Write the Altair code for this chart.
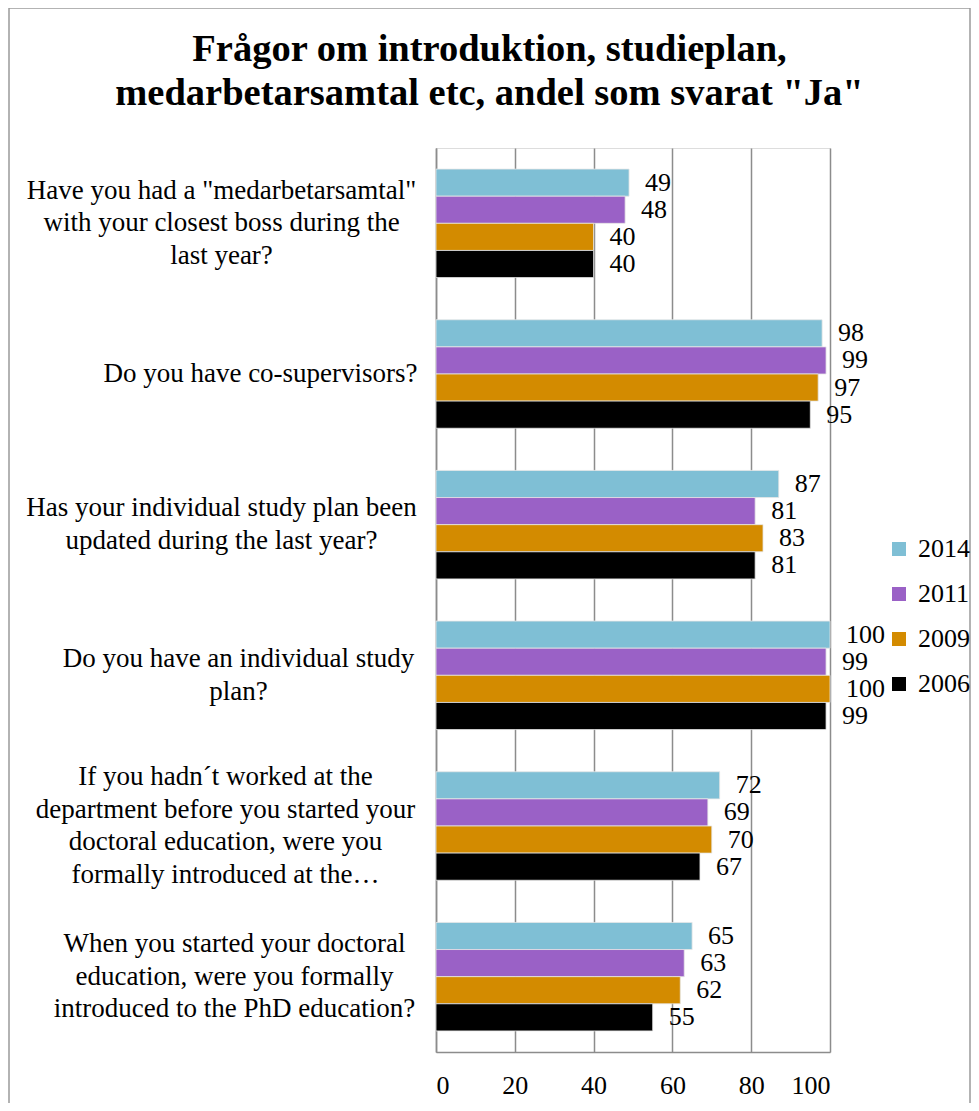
import altair as alt
import pandas as pd

categories = [
    'Have you had a "medarbetarsamtal"|with your closest boss during the|last year?',
    "Do you have co-supervisors?",
    "Has your individual study plan been|updated during the last year?",
    "Do you have an individual study|plan?",
    "If you hadn´t worked at the|department before you started your|doctoral education, were you|formally introduced at the…",
    "When you started your doctoral|education, were you formally|introduced to the PhD education?",
]
years = ["2014", "2011", "2009", "2006"]
v2014 = [49, 98, 87, 100, 72, 65]
v2011 = [48, 99, 81, 99, 69, 63]
v2009 = [40, 97, 83, 100, 70, 62]
v2006 = [40, 95, 81, 99, 67, 55]
colors = ["#7FBFD5", "#9A61C6", "#D38B00", "#000000"]
x_ticks = [0, 20, 40, 60, 80, 100]

series = {"2014": v2014, "2011": v2011, "2009": v2009, "2006": v2006}
rows = []
for y in years:
    for c, v in zip(categories, series[y]):
        rows.append({"question": c, "year": y, "value": v})
df = pd.DataFrame(rows)

FONT = "Liberation Serif, Times New Roman, serif"
W, H = 394, 904
PAD_L, PAD_T = 428, 140
TOTAL_W, TOTAL_H = 963, 1095
LH = 32.5

# per-label padding so that the centred multi-line block ends near the axis
pad_cond = [
    {"test": f"datum.value == {repr(categories[1])}", "value": 176},
    {"test": f"datum.value == {repr(categories[3])}", "value": 198},
    {"test": f"datum.value == {repr(categories[5])}", "value": 202},
    {"test": f"datum.value == {repr(categories[4])}", "value": 211},
]
# shift multi-line blocks up so they are centred on the band
off_cond = [
    {"test": "length(split(datum.value, '|')) == 2", "value": -LH / 2},
    {"test": "length(split(datum.value, '|')) == 3", "value": -LH},
    {"test": "length(split(datum.value, '|')) == 4", "value": -1.5 * LH},
]

y_enc = alt.Y(
    "question:N",
    sort=categories,
    scale=alt.Scale(paddingInner=0.28, paddingOuter=0.14),
    axis=alt.Axis(
        title=None,
        labelExpr="split(datum.label, '|')",
        labelFont=FONT,
        labelFontSize=27,
        labelColor="black",
        labelAlign="center",
        labelBaseline="middle",
        labelLineHeight=LH,
        labelLimit=600,
        labelPadding={"condition": pad_cond, "value": 215},
        labelOffset={"condition": off_cond, "value": 0},
        ticks=False,
        domainColor="#8c8c8c",
        domainWidth=1.5,
    ),
)
x_enc = alt.X(
    "value:Q",
    scale=alt.Scale(domain=[0, 100], nice=False),
    axis=alt.Axis(
        title=None,
        values=x_ticks,
        labelFont=FONT,
        labelFontSize=26,
        labelColor="black",
        labelPadding=20,
        ticks=False,
        grid=True,
        gridColor="#8c8c8c",
        gridWidth=1.5,
        domainColor="#8c8c8c",
        domainWidth=1.5,
    ),
)

base = alt.Chart(df)

bars = base.mark_bar(stroke="#e6e6e6", strokeWidth=0.8).encode(
    y=y_enc,
    x=x_enc,
    yOffset=alt.YOffset("year:N", sort=years),
    color=alt.Color(
        "year:N",
        sort=years,
        scale=alt.Scale(domain=years, range=colors),
        legend=alt.Legend(
            title=None,
            orient="none",
            legendX=450,
            legendY=388,
            symbolType="square",
            symbolSize=196,
            symbolStrokeWidth=0,
            labelFont=FONT,
            labelFontSize=26,
            labelColor="black",
            rowPadding=19,
            labelOffset=6,
        ),
    ),
)

labels = base.mark_text(
    align="left", baseline="middle", dx=16, font=FONT, fontSize=26, color="black"
).encode(
    y=alt.Y("question:N", sort=categories),
    x=alt.X("value:Q"),
    yOffset=alt.YOffset("year:N", sort=years),
    text=alt.Text("value:Q"),
)

frame = alt.Chart(pd.DataFrame({"a": [0]})).mark_rect(
    fill=None, stroke="#9a9a9a", strokeWidth=1.5
).encode(
    x=alt.value(-PAD_L + 1),
    x2=alt.value(TOTAL_W - PAD_L - 1),
    y=alt.value(-PAD_T + 0),
    y2=alt.value(H + 80),
)

chart = (
    alt.layer(frame, bars, labels)
    .properties(
        width=W,
        height=H,
        autosize=alt.AutoSizeParams(type="none"),
        padding={"left": PAD_L, "top": PAD_T,
                 "right": TOTAL_W - PAD_L - W, "bottom": TOTAL_H - PAD_T - H},
        title=alt.TitleParams(
            text=["Frågor om introduktion, studieplan,", 'medarbetarsamtal etc, andel som svarat "Ja"'],
            font=FONT,
            fontSize=38.5,
            fontWeight="bold",
            color="black",
            anchor="middle",
            frame="bounds",
            lineHeight=44,
            offset=-106,
        ),
    )
    .configure_view(stroke=None)
    .configure(background="white")
)

chart.save("out.html", embed_options={"renderer": "svg", "actions": False})
